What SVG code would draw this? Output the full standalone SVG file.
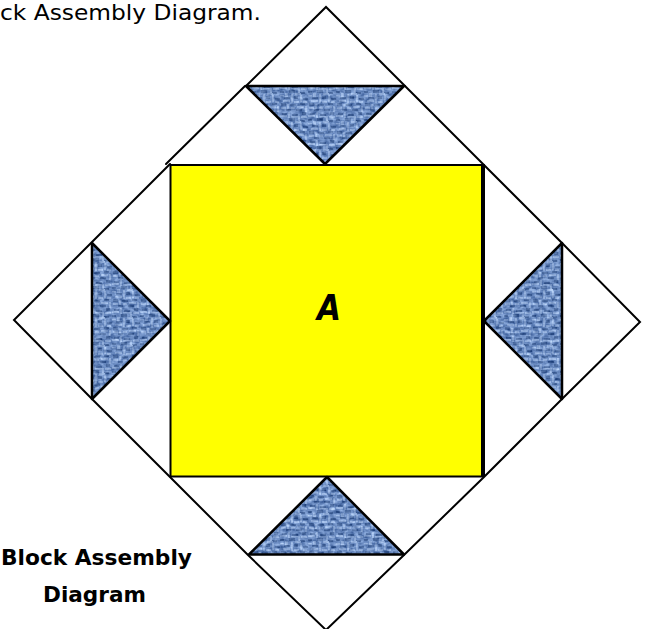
<svg xmlns="http://www.w3.org/2000/svg" width="649" height="629" viewBox="0 0 649 629">
<style>
.l{fill:none;stroke:#000;stroke-width:2;stroke-linecap:round}
.f{fill:url(#denim);filter:url(#noise)}
.t{fill:none;stroke:#000;stroke-width:2.5;stroke-linejoin:round}
text{font-family:"Comic Sans MS","DejaVu Sans","Liberation Sans",sans-serif;fill:#000}
</style>
<defs>
<filter id="soft" x="0" y="0" width="100%" height="100%"><feGaussianBlur stdDeviation="0.7"/></filter>
<filter id="noise" x="0" y="0" width="100%" height="100%" color-interpolation-filters="sRGB">
<feTurbulence type="fractalNoise" baseFrequency="0.2 0.28" numOctaves="2" seed="7" result="n"/>
<feColorMatrix in="n" type="matrix" values="1.2 0 0 0 -0.18  1.15 0 0 0 -0.035  1 0 0 0 0.23  0 0 0 0 1" result="c"/>
<feComposite in="c" in2="SourceGraphic" operator="arithmetic" k1="0" k2="0.45" k3="0.55" k4="0" result="m"/>
<feComposite in="m" in2="SourceAlpha" operator="in"/>
</filter>
<pattern id="denim" width="28" height="28" patternUnits="userSpaceOnUse">
<rect width="28" height="28" fill="#6a8cc6"/>
<g filter="url(#soft)">
<path fill="#2f5088" d="M2 1h5v2h-5zM12 2h6v2h-6zM22 0h4v3h-4zM0 7h4v2h-4zM9 6h6v3h-6zM19 8h6v2h-6zM4 13h6v2h-6zM14 12h4v3h-4zM23 14h5v2h-5zM1 19h5v3h-5zM10 20h6v2h-6zM20 19h5v2h-5zM6 25h5v2h-5zM16 25h6v2h-6z"/>
<path fill="#a9c4ee" d="M8 0h2v6h-2zM18 4h2v6h-2zM0 3h7v2h-7zM11 4h7v1.500h-7zM21 4h6v2h-6zM5 9h3v4h-3zM15 9h6v2h-6zM0 11h4v1.500h-4zM11 10h2v9h-2zM20 11h2v7h-2zM3 16h7v2h-7zM14 17h5v2h-5zM23 17h4v2h-4zM7 20h2v5h-2zM17 22h7v2h-7zM1 23h5v2h-5zM25 22h2v6h-2zM11 23h4v2h-4z"/>
</g>
</pattern>
</defs>
<rect width="649" height="629" fill="#fff"/>
<text x="0" y="20" font-size="21.500" textLength="261" lengthAdjust="spacingAndGlyphs">ck Assembly Diagram.</text>
<g id="connectors">
<path class="l" d="M246 86L326 7L405 86"/>
<path class="l" d="M245 86L166 164"/>
<path class="l" d="M405 86L484 165L562 243L640 322L562 399L484 477L404 555L326 630L248 555L170 477L92 399L14 320L92 242L170 164"/>
</g>
<g id="node-a">
<rect x="170.500" y="165" width="312" height="311.500" fill="#ff0" stroke="#000" stroke-width="2"/>
<path d="M483 164V477" stroke="#000" stroke-width="4"/>
<text x="329" y="320" font-size="36" font-style="italic" font-weight="bold" text-anchor="middle" textLength="24" lengthAdjust="spacingAndGlyphs">A</text>
</g>
<g id="triangle-top"><path class="f" d="M246 86H404L325 164Z"/><path class="t" d="M246 86H404L325 164Z"/></g>
<g id="triangle-right"><path class="f" d="M484 321L562 243V399Z"/><path class="t" d="M484 321L562 243V399Z"/></g>
<g id="triangle-bottom"><path class="f" d="M249 554.500H404L327 477Z"/><path class="t" d="M249 554.500H404L327 477Z"/></g>
<g id="triangle-left"><path class="f" d="M92 243V399L170 321Z"/><path class="t" d="M92 243V399L170 321Z"/></g>
<g id="caption" font-weight="bold" font-size="22">
<text x="1" y="565" textLength="191" lengthAdjust="spacingAndGlyphs">Block Assembly</text>
<text x="43" y="602" textLength="103" lengthAdjust="spacingAndGlyphs">Diagram</text>
</g>
</svg>
